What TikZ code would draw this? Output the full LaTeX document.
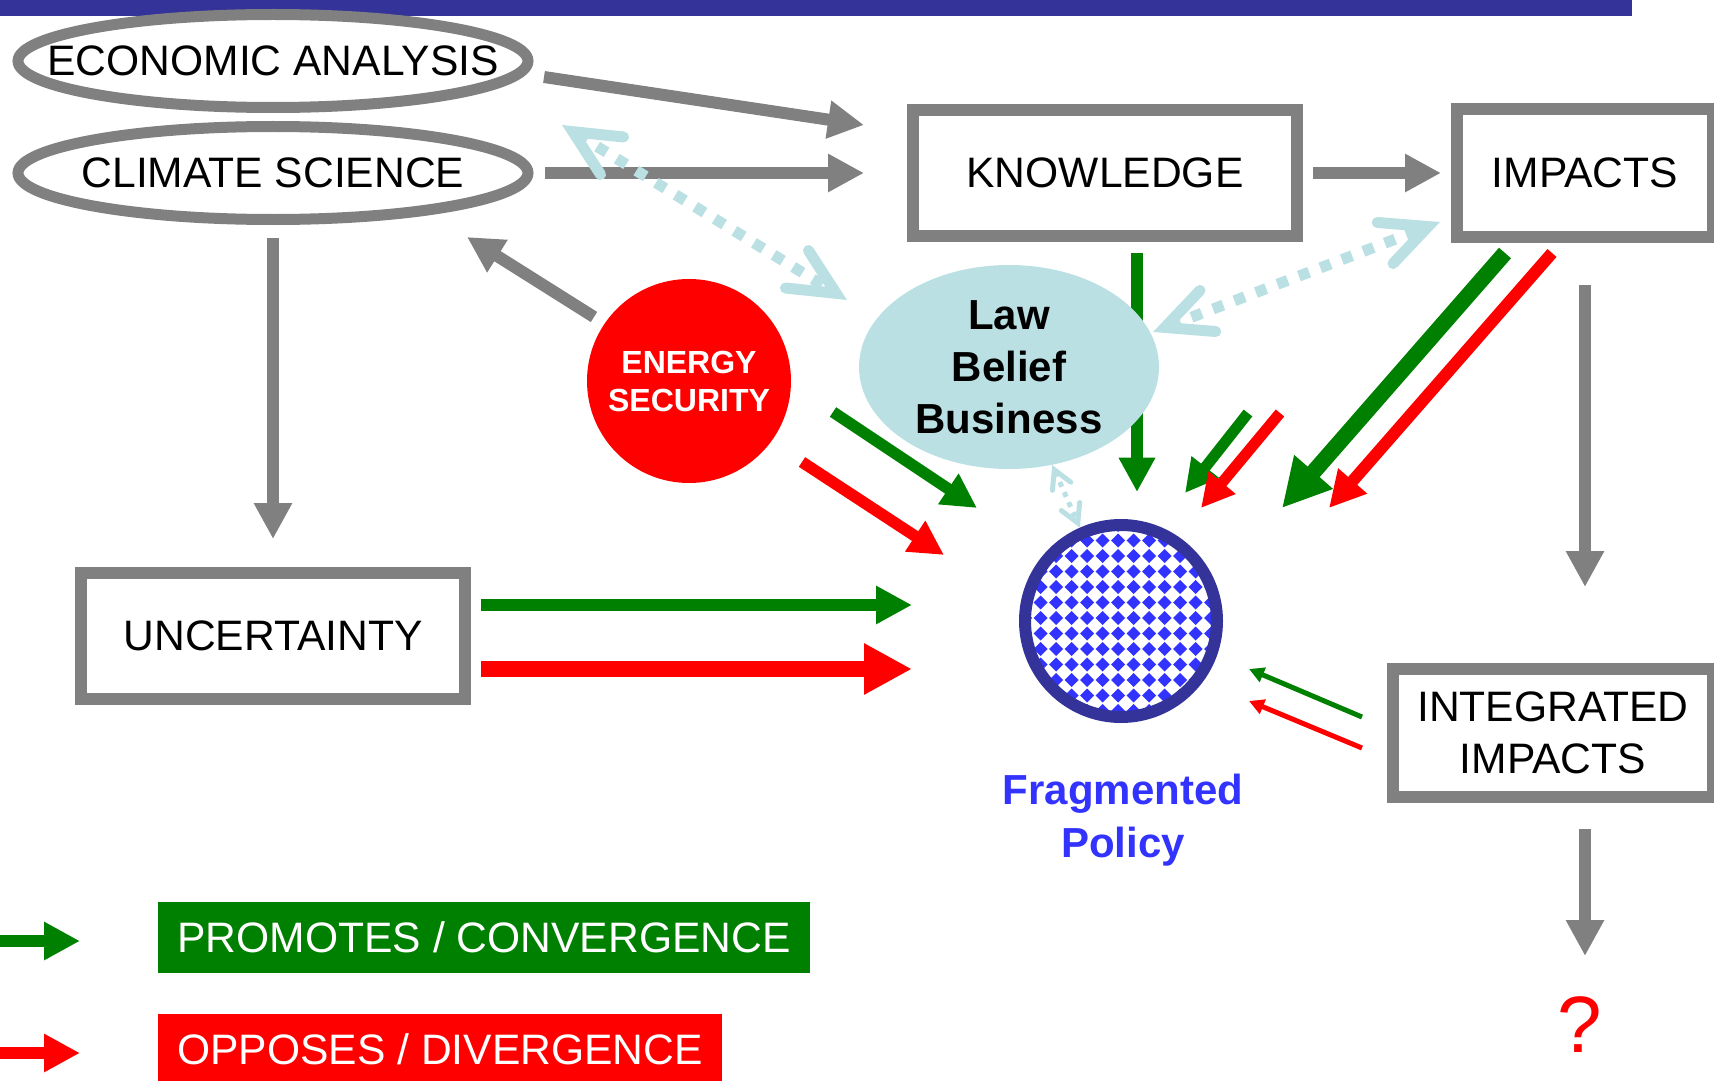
\documentclass[tikz,border=0pt]{standalone}
\usepackage{fontspec}
\setmainfont{Liberation Sans}
\usetikzlibrary{arrows.meta,shapes.geometric}

\definecolor{boxgray}{HTML}{808080}
\definecolor{promgreen}{HTML}{008000}
\definecolor{oppred}{HTML}{FF0000}
\definecolor{lawblue}{HTML}{BBE0E3}
\definecolor{barnavy}{HTML}{333399}
\definecolor{polblue}{HTML}{3333FF}

\tikzset{
  txt/.style={font=\fontsize{21.3}{26}\selectfont},
  box/.style={draw=boxgray, line width=6pt, minimum width=192pt, minimum height=63pt, align=center, txt},
  oval/.style={ellipse, draw=boxgray, line width=5.5pt, minimum width=255pt, minimum height=46.5pt, inner sep=0pt},
  keybox/.style={minimum height=35.5pt, inner sep=0pt, text=white, txt},
  flow/.style={line width=#1, -{Triangle[length=0pt 3, width=0pt 3]}},
  link/.style={draw=lawblue, line width=5.5pt, dash pattern=on 5.5pt off 6pt,
    arrows={Straight Barb[length=23pt, width=22pt, line cap=round, line join=miter]-Straight Barb[length=23pt, width=22pt, line cap=round, line join=miter]}},
  smalllink/.style={draw=lawblue, line width=2.5pt, dash pattern=on 2.5pt off 3pt,
    arrows={Straight Barb[length=9pt, width=10pt, line cap=round, line join=miter]-Straight Barb[length=9pt, width=10pt, line cap=round, line join=miter]}}
}

\begin{document}
\begin{tikzpicture}[x=0.5pt,y=-0.5pt]
  \useasboundingbox (0,0) rectangle (1714,1081);
  \fill[barnavy] (0,0) rectangle (1632,16);

  \node[oval, label={[txt]center:ECONOMIC ANALYSIS}] (econ) at (273,61) {};
  \node[oval, label={[txt]center:CLIMATE SCIENCE}] (clim) at (273,173) {};
  \node[box] (know) at (1105,173) {KNOWLEDGE};
  \node[box, minimum width=128pt, minimum height=64pt] (imp) at (1585,173) {IMPACTS};
  \node[box] (unc) at (273,636) {UNCERTAINTY};
  \node[box, minimum width=160pt, minimum height=64pt] (intimp) at (1553,733) {INTEGRATED\\IMPACTS};
  \node[text=oppred, font=\fontsize{40}{48}\selectfont] (q) at (1580,1025) {?};

  \node[keybox, fill=promgreen, minimum width=326pt] (prom) at (484,937.5) {PROMOTES / CONVERGENCE};
  \node[keybox, fill=oppred, minimum width=282pt] (opp) at (440,1049.5) {OPPOSES / DIVERGENCE};

  % free ends
  \coordinate (econ-out) at (544,77);
  \coordinate (know-in) at (864,125);
  \coordinate (energy-out) at (594,317);
  \coordinate (clim-in) at (467,237);
  \coordinate (imp-out) at (1585,285);
  \coordinate (intimp-in) at (1585,587);
  \coordinate (intimp-out) at (1585,829);
  \coordinate (q-in) at (1585,956);
  \coordinate (know-out) at (1137,253);
  \coordinate (pol-top) at (1137,492);
  \coordinate (unc-g) at (481,605);
  \coordinate (pol-g) at (912,605);
  \coordinate (unc-r) at (481,669);
  \coordinate (pol-r) at (912,669);
  \coordinate (en-g) at (833,412);
  \coordinate (pol-eg) at (977,508);
  \coordinate (en-r) at (802,462);
  \coordinate (pol-er) at (944,555);
  \coordinate (law-g) at (1248,413);
  \coordinate (pol-lg) at (1185,493);
  \coordinate (law-r) at (1280,413);
  \coordinate (pol-lr) at (1201,508);
  \coordinate (imp-g) at (1505,253);
  \coordinate (pol-ig) at (1282,508);
  \coordinate (imp-r) at (1552,253);
  \coordinate (pol-ir) at (1329,508);
  \coordinate (int-g) at (1362,717);
  \coordinate (pol-ng) at (1249,669);
  \coordinate (int-r) at (1362,748);
  \coordinate (pol-nr) at (1249,701);
  \coordinate (key-g0) at (0,941);
  \coordinate (key-g1) at (80,941);
  \coordinate (key-r0) at (0,1053);
  \coordinate (key-r1) at (80,1053);
  \coordinate (clim-dot) at (562,125);
  \coordinate (law-dot) at (847,300);
  \coordinate (law-dot2) at (1153,332);
  \coordinate (imp-dot) at (1440,222);
  \coordinate (polc) at (1121,621);

  % grey flows
  \path[draw=boxgray, flow=6pt] (econ-out) -- (know-in);
  \path[draw=boxgray, flow=6pt, shorten <=5.75pt, shorten >=21.5pt] (clim) -- (know);
  \path[draw=boxgray, flow=6pt, shorten <=5pt, shorten >=5pt] (know) -- (imp);
  \path[draw=boxgray, flow=6pt, shorten <=6.25pt, shorten >=14pt] (clim) -- (unc);
  \path[draw=boxgray, flow=6pt] (energy-out) -- (clim-in);
  \path[draw=boxgray, flow=6pt] (imp-out) -- (intimp-in);
  \path[draw=boxgray, flow=6pt] (intimp-out) -- (q-in);

  % green and red flows
  \path[draw=promgreen, flow=5.75pt] (know-out) -- (pol-top);
  \path[draw=promgreen, flow=6pt] (unc-g) -- (pol-g);
  \path[draw=oppred, flow=8pt] (unc-r) -- (pol-r);
  \path[draw=promgreen, flow=5.75pt] (en-g) -- (pol-eg);
  \path[draw=oppred, flow=5.75pt] (en-r) -- (pol-er);
  \path[draw=promgreen, flow=5.5pt] (law-g) -- (pol-lg);
  \path[draw=oppred, flow=5.5pt] (law-r) -- (pol-lr);
  \path[draw=promgreen, flow=8pt] (imp-g) -- (pol-ig);
  \path[draw=oppred, flow=6pt] (imp-r) -- (pol-ir);
  \path[draw=promgreen, flow=2.5pt] (int-g) -- (pol-ng);
  \path[draw=oppred, flow=2.5pt] (int-r) -- (pol-nr);
  \path[draw=promgreen, flow=6pt] (key-g0) -- (key-g1);
  \path[draw=oppred, flow=6pt] (key-r0) -- (key-r1);

  \node[ellipse, fill=lawblue, minimum width=150pt, minimum height=102pt, inner sep=0pt, align=center,
    font=\fontsize{21}{26}\selectfont\bfseries] (law) at (1009,367) {Law\\Belief\\Business};
  \node[circle, fill=oppred, minimum size=102pt, inner sep=0pt, text=white, align=center,
    font=\fontsize{16}{19}\selectfont\bfseries] (energy) at (689,381) {ENERGY\\SECURITY};

  % fragmented policy
  \begin{scope}
    \clip (polc) circle [radius=91];
    \foreach \i in {-6,...,6}
      \foreach \j in {-6,...,6}
        \fill[polblue] (1118+15.5*\i,618+15.5*\j) +(-7,0) -- +(0,-7) -- +(7,0) -- +(0,7) -- cycle;
  \end{scope}
  \node[circle, draw=barnavy, line width=6pt, minimum size=96pt, inner sep=0pt] (pol) at (polc) {};
  \node[text=polblue, align=center, font=\fontsize{21}{26.5}\selectfont\bfseries] (pollab) at (1123,820) {Fragmented\\Policy};

  % dotted links
  \path[link] (clim-dot) -- (law-dot);
  \path[link] (law-dot2) -- (imp-dot);
  \path[smalllink] (law) -- (pol);
\end{tikzpicture}
\end{document}
